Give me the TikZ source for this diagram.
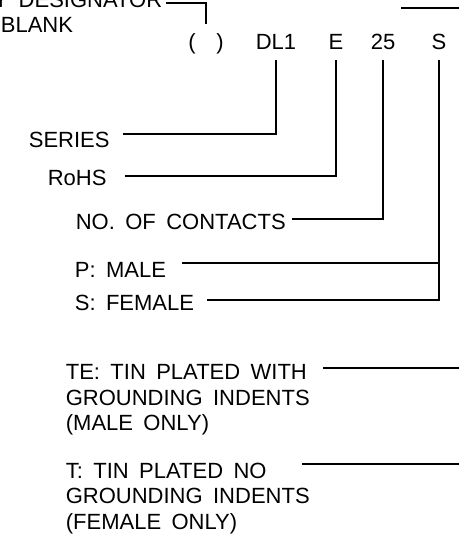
\documentclass[tikz,border=0pt]{standalone}
\usepackage{fontspec}
\setmainfont{Liberation Sans}[WordSpace=1.7]
\usetikzlibrary{positioning}

\begin{document}
\begin{tikzpicture}[x=1pt, y=-1pt, line width=1.7pt,
    lbl/.style={inner sep=0pt, font=\fontsize{22}{25.5}\selectfont},
    partno/.style={inner xsep=0pt, inner ysep=9pt, font=\fontsize{22}{25.5}\selectfont}]
      \useasboundingbox (0,0) rectangle (458,535);

      % part number
      \node[partno, anchor=base] (paren) at (206,50) {(~~)};
      \node[partno, anchor=base] (dl) at (276,50) {DL1};
      \node[partno, anchor=base] (rohs) at (336,50) {E};
      \node[partno, anchor=base] (cont) at (383,50) {25};
      \node[partno, anchor=base] (gender) at (439,50) {S};

      % labels
      \node[lbl, anchor=base east] (desig) at (163,8) {Y DESIGNATOR};
      \node[lbl, anchor=base west] (blank) at (0,33) {BLANK};
      \node[lbl, anchor=base west] (serieslbl) at (28,147) {SERIES};
      \node[lbl, anchor=base west] (rohslbl) at (47,185) {RoHS};
      \node[lbl, anchor=base west] (contlbl) at (75,229) {NO. OF CONTACTS};
      \node[lbl, anchor=base west] (malelbl) at (74,277) {P: MALE};
      \node[lbl, anchor=base west] (femalelbl) at (74,310) {S: FEMALE};
      \node[lbl, anchor=north west, align=left] (tewith) at (65,364)
        {TE: TIN PLATED WITH\\GROUNDING INDENTS\\(MALE ONLY)};
      \node[lbl, anchor=north west, align=left] (tno) at (65,462)
        {T: TIN PLATED NO\\GROUNDING INDENTS\\(FEMALE ONLY)};

      % line ends
      \coordinate (desig-in) at (166,3);
      \coordinate (series-in) at (123,134);
      \coordinate (rohs-in) at (125,176);
      \coordinate (cont-in) at (292,219);
      \coordinate (male-in) at (182,263);
      \coordinate (female-in) at (207,300);
      \coordinate (tewith-in) at (323,368);
      \coordinate (tewith-out) at (460,368);
      \coordinate (tno-in) at (302,464);
      \coordinate (tno-out) at (460,464);
      \coordinate (title-a) at (401,8);
      \coordinate (title-b) at (460,8);

      \draw (desig-in) -| (paren.north);
      \draw (dl.south) |- (series-in);
      \draw (rohs.south) |- (rohs-in);
      \draw (cont.south) |- (cont-in);
      \draw (gender.south) |- (female-in);
      \draw (male-in) -- (male-in -| gender.south);
      \draw (tewith-in) -- (tewith-out);
      \draw (tno-in) -- (tno-out);
      \draw (title-a) -- (title-b);
    \end{tikzpicture}
\end{document}
